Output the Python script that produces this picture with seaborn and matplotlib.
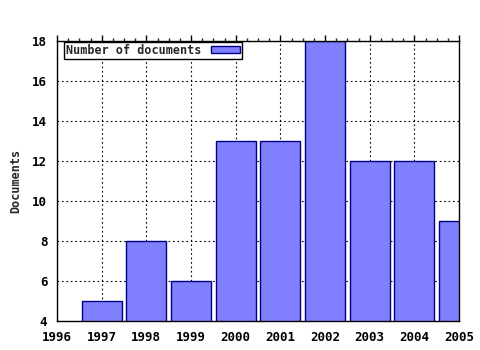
import matplotlib
matplotlib.use("Agg")
import matplotlib.pyplot as plt
import seaborn as sns
import pandas as pd
from matplotlib.ticker import MultipleLocator, AutoMinorLocator

years = [1997, 1998, 1999, 2000, 2001, 2002, 2003, 2004, 2005]
documents = [5, 8, 6, 13, 13, 18, 12, 12, 9]
series_label = "Number of documents"
y_label = "Documents"

sns.set_style("white")
plt.rcParams['font.family'] = ['DejaVu Sans Mono']
plt.rcParams['font.weight'] = 'bold'

df = pd.DataFrame({"year": years, "docs": documents})

fig = plt.figure(figsize=(4.8, 3.5), dpi=100)
ax = fig.add_axes([57/480, 29/350, (459-57)/480, (321-41)/350])

sns.barplot(data=df, x="year", y="docs", native_scale=True, width=0.9,
            color="#8080FF", saturation=1, edgecolor="#000080", linewidth=1,
            label=series_label, ax=ax, zorder=2)
for p in ax.patches:
    p.set_clip_on(True)

ax.set_xlim(1996, 2005)
ax.set_ylim(4, 18)
ax.xaxis.set_major_locator(MultipleLocator(1))
ax.yaxis.set_major_locator(MultipleLocator(2))
ax.xaxis.set_minor_locator(AutoMinorLocator(4))
ax.grid(True, which='major', color='black', linestyle=(0, (1.5, 2.5)), linewidth=0.8, zorder=0)
ax.set_axisbelow(True)

for s in ax.spines.values():
    s.set_color('black')
    s.set_linewidth(1)

ax.tick_params(axis='x', which='major', direction='out', length=4, width=1, top=True,
               labelsize=9, pad=3, colors='black')
ax.tick_params(axis='x', which='minor', direction='out', length=2, width=1, top=True)
ax.tick_params(axis='y', which='major', direction='out', length=4, width=1, right=False,
               labelsize=9, pad=3, colors='black')
for lab in ax.get_xticklabels() + ax.get_yticklabels():
    lab.set_fontweight('bold')

ax.set_xlabel("")
ax.set_ylabel(y_label, fontsize=8.5, fontweight='bold', labelpad=7)

leg = ax.legend(loc='upper left', bbox_to_anchor=(0.015, 1.0), frameon=True,
                fancybox=False, edgecolor='black', framealpha=1,
                prop={'size': 8.5, 'weight': 'bold'}, markerfirst=False,
                handlelength=2.5, handleheight=0.55, borderpad=0.15,
                borderaxespad=0.1, handletextpad=0.8)
leg.get_frame().set_linewidth(1)

fig.savefig("out.png", dpi=100)
